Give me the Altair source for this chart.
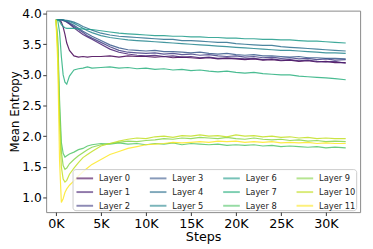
import altair as alt
import pandas as pd

steps_k = [0, 0.2, 0.4, 0.6, 0.8, 1.0, 1.2, 1.5, 2, 2.5, 3, 3.5, 4, 5, 6, 7, 8, 9, 10, 11, 12, 13, 14,
           15, 16, 17, 18, 19, 20, 21, 22, 23, 24, 25, 26, 27, 28, 29, 30, 31, 32.2]

layer_0 = [3.90, 3.90, 3.89, 3.86, 3.78, 3.66, 3.52, 3.40, 3.31, 3.29, 3.30, 3.29, 3.30, 3.30, 3.31, 3.29, 3.31, 3.30, 3.30, 3.29, 3.30,
           3.28, 3.29, 3.28, 3.27, 3.28, 3.26, 3.27, 3.26, 3.25, 3.26, 3.24, 3.25, 3.23, 3.24, 3.22, 3.23, 3.21, 3.22, 3.20, 3.20]
layer_1 = [3.90, 3.90, 3.90, 3.90, 3.89, 3.88, 3.86, 3.83, 3.77, 3.71, 3.66, 3.62, 3.58, 3.50, 3.42, 3.37, 3.34, 3.32, 3.31, 3.32, 3.30,
           3.31, 3.29, 3.30, 3.28, 3.29, 3.27, 3.28, 3.27, 3.26, 3.27, 3.25, 3.26, 3.24, 3.25, 3.23, 3.24, 3.22, 3.21, 3.22, 3.19]
layer_2 = [3.90, 3.90, 3.90, 3.90, 3.89, 3.88, 3.87, 3.84, 3.79, 3.74, 3.69, 3.64, 3.60, 3.53, 3.46, 3.40, 3.37, 3.36, 3.35, 3.36, 3.34,
           3.35, 3.33, 3.34, 3.32, 3.33, 3.31, 3.30, 3.31, 3.29, 3.30, 3.28, 3.29, 3.27, 3.28, 3.26, 3.27, 3.25, 3.26, 3.24, 3.25]
layer_3 = [3.90, 3.90, 3.90, 3.90, 3.89, 3.88, 3.87, 3.85, 3.81, 3.76, 3.71, 3.67, 3.63, 3.56, 3.49, 3.44, 3.41, 3.40, 3.39, 3.40, 3.38,
           3.38, 3.37, 3.36, 3.37, 3.35, 3.34, 3.35, 3.33, 3.32, 3.33, 3.31, 3.31, 3.30, 3.29, 3.30, 3.28, 3.28, 3.27, 3.27, 3.26]
layer_4 = [3.90, 3.90, 3.90, 3.90, 3.90, 3.89, 3.89, 3.88, 3.86, 3.83, 3.79, 3.76, 3.73, 3.68, 3.65, 3.63, 3.62, 3.61, 3.60, 3.59, 3.58,
           3.58, 3.56, 3.56, 3.55, 3.54, 3.53, 3.53, 3.51, 3.50, 3.49, 3.48, 3.48, 3.46, 3.45, 3.44, 3.43, 3.42, 3.41, 3.40, 3.39]
layer_5 = [3.90, 3.90, 3.90, 3.90, 3.90, 3.89, 3.88, 3.87, 3.84, 3.80, 3.76, 3.72, 3.69, 3.64, 3.61, 3.59, 3.57, 3.56, 3.55, 3.54, 3.53,
           3.52, 3.51, 3.50, 3.49, 3.48, 3.47, 3.46, 3.45, 3.44, 3.43, 3.42, 3.41, 3.40, 3.40, 3.39, 3.38, 3.37, 3.36, 3.36, 3.35]
layer_6 = [3.90, 3.90, 3.88, 3.82, 3.79, 3.77, 3.76, 3.76, 3.76, 3.75, 3.75, 3.74, 3.74, 3.72, 3.70, 3.68, 3.67, 3.66, 3.65, 3.64, 3.64,
           3.63, 3.63, 3.62, 3.62, 3.61, 3.61, 3.60, 3.60, 3.59, 3.59, 3.58, 3.58, 3.57, 3.57, 3.56, 3.55, 3.55, 3.54, 3.53, 3.52]
layer_7 = [3.90, 3.89, 3.70, 3.30, 3.00, 2.88, 2.85, 2.98, 3.08, 3.10, 3.11, 3.13, 3.11, 3.12, 3.13, 3.11, 3.12, 3.10, 3.11, 3.09, 3.10,
           3.08, 3.09, 3.07, 3.08, 3.06, 3.05, 3.06, 3.04, 3.03, 3.04, 3.02, 3.01, 3.00, 3.00, 2.98, 2.97, 2.96, 2.95, 2.94, 2.92]
layer_8 = [3.90, 3.60, 2.60, 1.90, 1.72, 1.66, 1.68, 1.71, 1.74, 1.78, 1.80, 1.84, 1.86, 1.88, 1.87, 1.89, 1.87, 1.88, 1.86, 1.88, 1.87,
           1.89, 1.86, 1.88, 1.87, 1.86, 1.87, 1.85, 1.86, 1.85, 1.86, 1.84, 1.85, 1.83, 1.84, 1.83, 1.82, 1.83, 1.81, 1.82, 1.81]
layer_9 = [3.90, 3.50, 2.40, 1.75, 1.52, 1.46, 1.48, 1.55, 1.62, 1.68, 1.73, 1.78, 1.82, 1.86, 1.88, 1.90, 1.92, 1.91, 1.93, 1.94, 1.96,
           1.95, 1.97, 1.96, 1.98, 1.97, 1.96, 1.98, 1.96, 1.95, 1.97, 1.95, 1.94, 1.95, 1.93, 1.94, 1.92, 1.93, 1.91, 1.92, 1.91]
layer_10 = [3.90, 3.40, 2.20, 1.50, 1.30, 1.25, 1.28, 1.38, 1.48, 1.57, 1.65, 1.70, 1.75, 1.84, 1.88, 1.92, 1.95, 1.97, 1.96, 1.99, 2.00,
            1.98, 2.01, 2.00, 2.02, 2.00, 2.01, 1.99, 2.02, 2.00, 2.01, 1.99, 2.00, 1.98, 1.99, 1.97, 1.98, 1.96, 1.97, 1.96, 1.96]
layer_11 = [3.90, 3.20, 1.60, 0.92, 0.98, 1.08, 1.14, 1.20, 1.27, 1.35, 1.42, 1.48, 1.54, 1.62, 1.70, 1.75, 1.80, 1.83, 1.86, 1.87, 1.88,
            1.90, 1.89, 1.90, 1.91, 1.90, 1.92, 1.91, 1.92, 1.90, 1.91, 1.90, 1.91, 1.89, 1.90, 1.89, 1.90, 1.88, 1.89, 1.88, 1.88]

layer_names = ["Layer 0", "Layer 1", "Layer 2", "Layer 3", "Layer 4", "Layer 5",
               "Layer 6", "Layer 7", "Layer 8", "Layer 9", "Layer 10", "Layer 11"]
layer_colors = ["#440154", "#482173", "#433e85", "#38588c", "#2d708e", "#25858e",
                "#1e9b8a", "#2ab07f", "#52c569", "#86d549", "#c2df23", "#fde725"]
series = [layer_0, layer_1, layer_2, layer_3, layer_4, layer_5,
          layer_6, layer_7, layer_8, layer_9, layer_10, layer_11]

x_ticks = [0, 5, 10, 15, 20, 25, 30]
y_ticks = [1.0, 1.5, 2.0, 2.5, 3.0, 3.5, 4.0]

rows = []
for name, vals in zip(layer_names, series):
    for s, v in zip(steps_k, vals):
        rows.append({"layer": name, "step": s, "entropy": v})
df = pd.DataFrame(rows)

chart = alt.Chart(df).mark_line(strokeWidth=1.2, opacity=0.85).encode(
    x=alt.X("step:Q", title="Steps",
            scale=alt.Scale(domain=[-1.09, 33.8], nice=False, zero=False),
            axis=alt.Axis(values=x_ticks, labelExpr="datum.value + 'K'", grid=False,
                          domain=False, tickSize=3.5, tickColor="#333",
                          labelFontSize=13, titleFontSize=13, labelPadding=2,
                          titlePadding=1, labelColor="black", titleColor="black",
                          titleFontWeight="normal", labelFont="DejaVu Sans",
                          titleFont="DejaVu Sans")),
    y=alt.Y("entropy:Q", title="Mean Entropy",
            scale=alt.Scale(domain=[0.761, 4.048], nice=False, zero=False),
            axis=alt.Axis(values=y_ticks, format=".1f", grid=False, domain=False,
                          tickSize=3.5, tickColor="#333", labelFontSize=12.5,
                          titleFontSize=12, labelPadding=1.5, titlePadding=0,
                          labelColor="black", titleColor="black",
                          titleFontWeight="normal", labelFont="DejaVu Sans",
                          titleFont="DejaVu Sans")),
    color=alt.Color("layer:N",
                    scale=alt.Scale(domain=layer_names, range=layer_colors),
                    legend=alt.Legend(title=None, orient="none", legendX=27, legendY=162,
                                      columns=4, symbolType="stroke", symbolSize=289,
                                      symbolStrokeWidth=2, symbolOpacity=0.6,
                                      symbolOffset=3,
                                      labelFontSize=8.5, labelFont="DejaVu Sans",
                                      labelColor="#222", labelOffset=5,
                                      columnPadding=16, rowPadding=-4.5, padding=0,
                                      strokeColor="#cccccc", fillColor="rgba(255,255,255,0.8)",
                                      cornerRadius=3)),
    detail="layer:N",
).properties(
    width=321, height=206,
    autosize=alt.AutoSizeParams(type="none"),
    padding={"left": 39, "top": 0, "right": 5, "bottom": 35},
).configure_view(stroke="#888", strokeWidth=1)

chart.save("out.html", embed_options={"renderer": "svg", "actions": False})
